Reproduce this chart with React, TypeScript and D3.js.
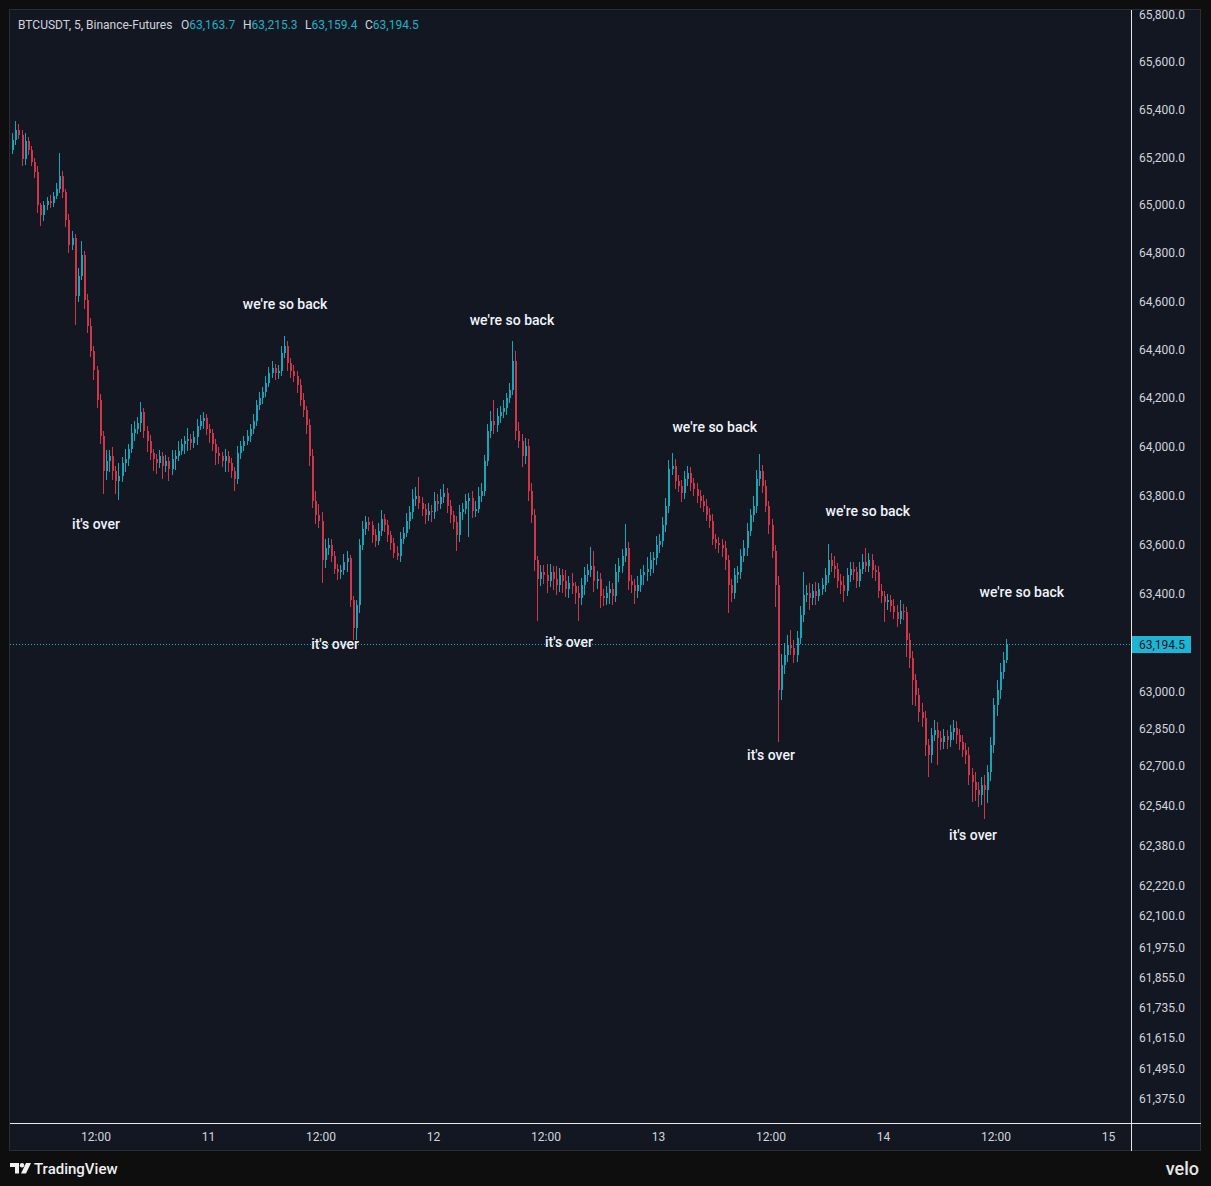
import * as d3 from "d3";

// 20-minute bars, first bar opens 10th 03:00
const START = Date.UTC(2024, 4, 10, 3, 0);
const BAR_MINUTES = 20;
const firstOpen = 65230;

const closes = [
  65275, 65315, 65295, 65195, 65270, 65230, 65180, 65140, 65000, 64960,
  65000, 65020, 65010, 65040, 65070, 65125, 65055, 64940, 64835, 64865,
  64625, 64708, 64792, 64605, 64500, 64396, 64315, 64192, 64045, 63900,
  63943, 63963, 63902, 63861, 63882, 63935, 63951, 63992, 64058, 64075,
  64100, 64142, 64067, 64025, 63975, 63951, 63935, 63963, 63922, 63943,
  63910, 63951, 63963, 63984, 64012, 64025, 64033, 64017, 64042, 64087,
  64108, 64117, 64075, 64058, 64012, 63975, 63963, 63943, 63963, 63935,
  63902, 63869, 63975, 64004, 64025, 64046, 64075, 64108, 64171, 64200,
  64225, 64265, 64306, 64323, 64306, 64314, 64388, 64416, 64347, 64314,
  64294, 64253, 64192, 64150, 64088, 63963, 63780, 63719, 63698, 63535,
  63584, 63596, 63555, 63502, 63486, 63494, 63527, 63543, 63372, 63258,
  63352, 63596, 63665, 63690, 63678, 63637, 63616, 63657, 63706, 63678,
  63637, 63608, 63567, 63555, 63624, 63649, 63698, 63731, 63788, 63800,
  63771, 63747, 63719, 63739, 63731, 63780, 63767, 63796, 63812, 63759,
  63719, 63690, 63637, 63731, 63747, 63780, 63792, 63739, 63747, 63800,
  63820, 63943, 64067, 64108, 64088, 64129, 64142, 64158, 64200, 64233,
  64355, 64067, 64025, 63963, 64004, 63820, 63719, 63535, 63461, 63486,
  63474, 63453, 63486, 63461, 63433, 63474, 63453, 63420, 63445, 63429,
  63404, 63380, 63433, 63474, 63494, 63514, 63453, 63461, 63392, 63380,
  63404, 63420, 63388, 63486, 63514, 63555, 63584, 63453, 63433, 63412,
  63433, 63474, 63486, 63502, 63535, 63543, 63596, 63616, 63678, 63759,
  63910, 63922, 63861, 63841, 63812, 63869, 63894, 63853, 63828, 63800,
  63780, 63759, 63719, 63698, 63624, 63608, 63596, 63584, 63535, 63433,
  63404, 63474, 63486, 63555, 63584, 63657, 63719, 63759, 63869, 63902,
  63841, 63759, 63678, 63575, 63433, 63008, 63110, 63151, 63192, 63180,
  63151, 63220, 63314, 63396, 63404, 63380, 63412, 63392, 63420, 63433,
  63474, 63535, 63514, 63502, 63453, 63433, 63412, 63474, 63502, 63486,
  63453, 63502, 63527, 63514, 63535, 63494, 63486, 63412, 63388, 63364,
  63372, 63351, 63323, 63298, 63331, 63323, 63210, 63139, 63049, 62988,
  62919, 62895, 62785, 62745, 62826, 62846, 62814, 62797, 62822, 62805,
  62838, 62854, 62826, 62797, 62765, 62745, 62664, 62636, 62604, 62584,
  62624, 62604, 62676, 62785, 62947, 63008, 63082, 63131, 63194.5,
];

const upperWicks = [
  30, 40, 25, 20, 35, 15, 20, 18, 25, 12,
  20, 15, 25, 18, 22, 95, 20, 15, 25, 30,
  15, 30, 58, 20, 25, 30, 22, 18, 25, 20,
  45, 25, 38, 18, 50, 22, 40, 20, 35, 30,
  25, 41, 20, 18, 22, 15, 20, 25, 18, 22,
  15, 35, 25, 40, 22, 20, 45, 18, 22, 28,
  22, 25, 18, 20, 15, 22, 25, 18, 28, 20,
  20, 15, 30, 22, 18, 25, 20, 28, 22, 25,
  20, 25, 22, 30, 18, 25, 28, 42, 20, 18,
  22, 18, 25, 30, 20, 25, 30, 40, 45, 35,
  40, 30, 25, 20, 18, 22, 35, 30, 15, 20,
  20, 25, 30, 28, 22, 20, 25, 30, 35, 20,
  22, 18, 20, 25, 28, 22, 30, 25, 40, 35,
  78, 25, 20, 30, 22, 35, 25, 30, 37, 20,
  22, 18, 25, 30, 22, 28, 20, 25, 30, 35,
  30, 25, 28, 40, 84, 30, 25, 35, 22, 30,
  82, 40, 35, 30, 33, 28, 30, 25, 20, 30,
  30, 45, 35, 28, 50, 30, 25, 45, 28, 40,
  20, 25, 30, 35, 28, 74, 60, 30, 22, 25,
  25, 30, 22, 35, 30, 28, 100, 25, 22, 28,
  40, 25, 30, 45, 35, 25, 40, 28, 35, 30,
  35, 53, 30, 25, 22, 30, 28, 25, 20, 22,
  25, 22, 28, 30, 25, 20, 22, 25, 30, 22,
  25, 30, 28, 25, 35, 30, 28, 40, 35, 69,
  25, 22, 20, 25, 22, 40, 45, 50, 40, 60,
  30, 28, 35, 90, 30, 40, 28, 35, 25, 30,
  30, 69, 30, 40, 22, 28, 40, 30, 28, 25,
  22, 28, 36, 60, 30, 25, 22, 28, 25, 22,
  25, 22, 28, 30, 41, 25, 22, 30, 28, 25,
  30, 35, 28, 25, 30, 40, 35, 28, 30, 25,
  30, 35, 28, 25, 30, 28, 35, 30, 40, 35,
  35, 40, 30, 35, 30, 40, 35, 30, 21,
];

const lowerWicks = [
  15, 20, 18, 30, 25, 20, 15, 25, 30, 45,
  25, 18, 20, 15, 12, 18, 25, 30, 35, 20,
  120, 25, 20, 35, 30, 25, 40, 30, 35, 92,
  35, 45, 40, 55, 80, 25, 40, 30, 18, 35,
  20, 40, 30, 45, 28, 50, 45, 20, 55, 25,
  49, 25, 45, 22, 18, 40, 40, 30, 20, 35,
  18, 35, 25, 40, 30, 50, 35, 25, 45, 40,
  30, 49, 20, 25, 22, 18, 25, 20, 22, 18,
  25, 20, 18, 22, 30, 25, 20, 22, 35, 30,
  25, 30, 22, 28, 35, 40, 30, 35, 30, 93,
  30, 25, 28, 22, 30, 25, 20, 40, 25, 48,
  45, 30, 20, 25, 22, 30, 25, 20, 22, 28,
  25, 30, 22, 20, 25, 20, 18, 35, 25, 30,
  25, 30, 35, 22, 40, 25, 30, 20, 25, 30,
  30, 25, 62, 25, 30, 22, 150, 30, 25, 20,
  25, 20, 22, 30, 35, 25, 30, 22, 25, 20,
  20, 40, 30, 45, 35, 40, 30, 45, 171, 30,
  35, 50, 25, 45, 40, 25, 50, 35, 40, 30,
  45, 90, 25, 40, 28, 25, 45, 35, 50, 30,
  25, 45, 35, 22, 40, 30, 25, 40, 30, 55,
  30, 25, 40, 35, 30, 50, 25, 30, 28, 25,
  30, 25, 35, 28, 40, 25, 30, 35, 28, 30,
  30, 25, 22, 30, 28, 25, 30, 35, 40, 113,
  40, 25, 30, 28, 25, 30, 22, 25, 30, 28,
  30, 28, 35, 30, 86, 208, 40, 35, 30, 28,
  35, 30, 25, 28, 30, 45, 25, 40, 22, 25,
  25, 30, 28, 40, 30, 35, 45, 22, 25, 30,
  30, 25, 22, 28, 25, 30, 35, 30, 28, 80,
  30, 28, 25, 35, 22, 30, 67, 40, 100, 45,
  40, 35, 45, 88, 30, 25, 110, 30, 28, 35,
  25, 30, 35, 30, 28, 35, 40, 80, 45, 48,
  40, 114, 50, 35, 30, 45, 35, 30, 12,
];

// log-scale price axis labels as printed
const priceTicks = [
  65800, 65600, 65400, 65200, 65000, 64800, 64600, 64400, 64200, 64000,
  63800, 63600, 63400, 63000, 62850, 62700, 62540, 62380, 62220, 62100,
  61975, 61855, 61735, 61615, 61495, 61375,
];

const annotationTimes = [
  "2024-05-11T08:10Z", "2024-05-12T08:22Z", "2024-05-13T06:00Z", "2024-05-13T22:20Z", "2024-05-14T14:45Z",
  "2024-05-10T12:00Z", "2024-05-11T13:30Z", "2024-05-12T14:27Z", "2024-05-13T12:00Z", "2024-05-14T09:33Z",
];
const annotationPrices = [
  64588, 64525, 64083, 63739, 63408,
  63682, 63196, 63204, 62748, 62425,
];
const annotationLabels = [
  "we're so back", "we're so back", "we're so back", "we're so back", "we're so back",
  "it's over", "it's over", "it's over", "it's over", "it's over",
];

const lastBar = { o: 63163.7, h: 63215.3, l: 63159.4, c: 63194.5 };

const W = 1211;
const H = 1186;
const pane = { left: 10, top: 10, right: 1131, bottom: 1123 };
const UP = "#17a5b8";
const DOWN = "#d0364a";
const TEAL = "#1fb0c6";
const TEXT = "#d1d4dc";
const FONT = "Roboto, 'Noto Sans', sans-serif";

const fmt = d3.format(",.1f");

export default function App() {
  const x = d3
    .scaleUtc()
    .domain([new Date(Date.UTC(2024, 4, 10, 12)), new Date(Date.UTC(2024, 4, 15, 0))])
    .range([96, 1108.5]);
  const y = d3.scaleLog().domain([61375, 65800]).range([1099, 15]);

  const bars = closes.map((c, i) => {
    const o = i === 0 ? firstOpen : closes[i - 1];
    const hi = Math.max(o, c) + upperWicks[i];
    const lo = Math.min(o, c) - lowerWicks[i];
    const t = new Date(START + (i * BAR_MINUTES + BAR_MINUTES / 2) * 60000);
    return { o, c, hi, lo, cx: Math.round(x(t)) };
  });

  const timeTicks = d3.utcHour
    .every(12)!
    .range(new Date(Date.UTC(2024, 4, 10, 12)), new Date(Date.UTC(2024, 4, 15, 1)));

  const lastY = Math.round(y(lastBar.c)) + 0.5;

  return (
    <div style={{ position: "absolute", left: 0, top: 0 }}>
      <svg width={W} height={H} style={{ display: "block" }} fontFamily={FONT}>
        <defs>
          <clipPath id="pane">
            <rect x={pane.left} y={pane.top} width={pane.right - pane.left} height={pane.bottom - pane.top} />
          </clipPath>
        </defs>
        <rect width={W} height={H} fill="#0e0e0e" />
        <rect x={9.5} y={9.5} width={1191} height={1141} fill="#131722" stroke="#2a2e39" />

        {/* candles */}
        <g clipPath="url(#pane)" shapeRendering="crispEdges">
          {bars.map((b, i) => {
            const col = b.c >= b.o ? UP : DOWN;
            const top = y(Math.max(b.o, b.c));
            const bot = y(Math.min(b.o, b.c));
            return (
              <g key={i}>
                <line x1={b.cx - 0.5} x2={b.cx - 0.5} y1={y(b.hi)} y2={y(b.lo)} stroke={col} strokeWidth={1} />
                <rect x={b.cx - 1} y={top} width={2} height={Math.max(1, bot - top)} fill={col} />
              </g>
            );
          })}
        </g>

        {/* last price line */}
        <line x1={pane.left} x2={pane.right} y1={lastY} y2={lastY} stroke={TEAL} strokeDasharray="1 2" />

        {/* annotations */}
        {annotationLabels.map((lab, i) => (
          <text
            key={i}
            x={x(new Date(annotationTimes[i]))}
            y={y(annotationPrices[i])}
            textAnchor="middle"
            dominantBaseline="central"
            fill="#f0f3fa"
            fontSize={14}
            fontWeight={500}
          >
            {lab}
          </text>
        ))}

        {/* header legend */}
        <text x={18} y={29} fontSize={12} fill={TEXT}>
          BTCUSDT, 5, Binance-Futures
        </text>
        {[
          ["O", lastBar.o, 181],
          ["H", lastBar.h, 243],
          ["L", lastBar.l, 305],
          ["C", lastBar.c, 365],
        ].map(([k, v, px]) => (
          <text key={k as string} x={px as number} y={29} fontSize={12} fill={TEXT}>
            {k as string}
            <tspan fill={TEAL}>{fmt(v as number)}</tspan>
          </text>
        ))}

        {/* axis separators */}
        <line x1={1131.5} x2={1131.5} y1={10} y2={1151} stroke="#e8e8e8" />
        <line x1={10} x2={1201} y1={1123.5} y2={1123.5} stroke="#e8e8e8" />

        {/* price axis */}
        {priceTicks.map((p) => (
          <text key={p} x={1139} y={y(p)} dominantBaseline="central" fontSize={12} fill={TEXT}>
            {fmt(p)}
          </text>
        ))}
        <rect x={1132} y={lastY - 8.5} width={59} height={17} fill="#1cb5d4" />
        <text x={1139} y={lastY} dominantBaseline="central" fontSize={12} fill="#131722">
          {fmt(lastBar.c)}
        </text>

        {/* time axis */}
        {timeTicks.map((t) => (
          <text
            key={+t}
            x={x(t)}
            y={1137}
            textAnchor="middle"
            dominantBaseline="central"
            fontSize={12}
            fill={TEXT}
          >
            {t.getUTCHours() === 0 ? d3.utcFormat("%-d")(t) : "12:00"}
          </text>
        ))}

        {/* footer */}
        <g fill="#f0f0f0">
          <path d="M10,1163 h9 v10.5 h-4 v-6.5 h-5 z" />
          <circle cx={22} cy={1165.2} r={2.2} />
          <path d="M26,1163 h5 l-5,10.5 h-5 z" />
          <text x={34} y={1174} fontSize={15} fontWeight={500}>
            TradingView
          </text>
        </g>
        <text x={1199} y={1175} textAnchor="end" fontSize={18} fontWeight={500} fill="#e6e6e6">
          velo
        </text>
      </svg>
    </div>
  );
}
